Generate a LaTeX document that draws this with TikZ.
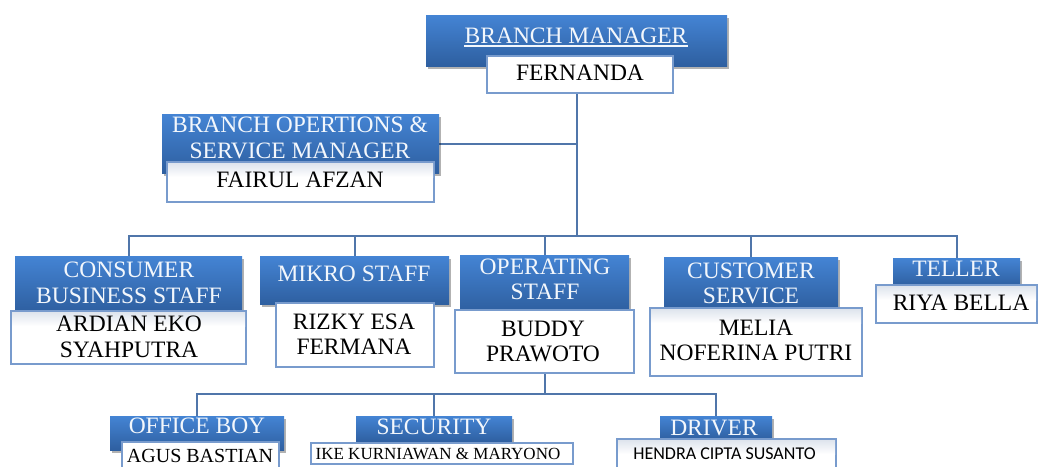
\documentclass[tikz,border=0pt]{standalone}
\usepackage{fontspec}
\setmainfont{Liberation Serif}
\newfontfamily\calib{Carlito}
\usetikzlibrary{shadows}
\definecolor{bluetop}{RGB}{68,132,212}
\definecolor{bluebot}{RGB}{46,95,160}
\definecolor{boxline}{RGB}{120,155,205}
\definecolor{connc}{RGB}{80,118,170}
\definecolor{tintc}{RGB}{222,228,237}
\definecolor{headtxt}{RGB}{243,247,252}
\pgfdeclarelayer{paper}
\pgfdeclarelayer{bg}
\pgfsetlayers{paper,bg,main}
\tikzset{
 hdr/.style={rectangle, inner sep=0pt, outer sep=0pt, top color=bluetop, bottom color=bluebot, draw=none,
   drop shadow={shadow xshift=2pt, shadow yshift=-3pt, opacity=0.3, fill=black}},
 namebox/.style={rectangle, inner sep=0pt, outer sep=0pt, fill=white, draw=boxline, line width=1.3pt},
 conn/.style={draw=connc, line width=2pt},
 htext/.style={inner sep=0pt, text=headtxt, font=\fontsize{23.5}{25.5}\selectfont, align=center},
 ntext/.style={inner sep=0pt, text=black, font=\fontsize{23.5}{25.5}\selectfont, align=center},
 tintfill/.style={top color=tintc, bottom color=white, draw=none},
}
\newcommand{\orgbox}[6]{\node[#6, minimum width={(#4-#2)*1pt}, minimum height={(#5-#3)*1pt}] (#1) at ({(#2+#4)/2},{(#3+#5)/2}) {};}
\newcommand{\tintbox}[1]{\fill[tintfill] ([xshift=1pt,yshift=-1pt]#1.north west) rectangle ([xshift=-1pt,yshift=-15pt]#1.north east);}
\begin{document}
\begin{tikzpicture}[x=1pt,y=-1pt]
\begin{pgfonlayer}{paper}
\fill[white] (0,0) rectangle (1040,466);
\end{pgfonlayer}
\useasboundingbox (0,0) rectangle (1040,466);
% header boxes and name boxes
\orgbox{bm}{426}{15}{727}{66}{hdr}
\orgbox{fer}{487}{56}{673}{93}{namebox}
\orgbox{bos}{162}{114}{439}{173}{hdr}
\orgbox{fai}{167}{162}{434}{202}{namebox}\tintbox{fai}
\orgbox{cons}{15}{256}{242}{312}{hdr}
\orgbox{ard}{11}{311}{246}{364}{namebox}\tintbox{ard}
\orgbox{mik}{260}{256}{449}{304}{hdr}
\orgbox{riz}{276}{303}{434}{367}{namebox}
\orgbox{ops}{460}{255}{629}{311}{hdr}
\orgbox{bud}{455}{310}{634}{373}{namebox}
\orgbox{cus}{664}{257}{838}{309}{hdr}
\orgbox{mel}{650}{308}{862}{376}{namebox}\tintbox{mel}
\orgbox{tel}{893}{258}{1020}{286}{hdr}
\orgbox{riy}{876}{285}{1037}{323}{namebox}\tintbox{riy}
\orgbox{ob}{110}{416}{284}{450}{hdr}
\orgbox{agu}{122}{442}{279}{472}{namebox}
\orgbox{sec}{356}{416}{512}{442}{hdr}
\orgbox{ike}{311}{443}{573}{464}{namebox}
\orgbox{drv}{660}{416}{772}{440}{hdr}
\orgbox{hen}{617}{439}{836}{472}{namebox}\tintbox{hen}
% connectors
\coordinate (jtop) at (577,236);
\coordinate (jbot) at (546,394);
\begin{pgfonlayer}{bg}
\draw[conn] (jtop |- fer.south) -- (jtop);
\draw[conn] (bos.east) -- (bos.east -| jtop);
\draw[conn] (cons.north) -- (cons.north |- jtop) -- (tel.north |- jtop) -- (tel.north);
\draw[conn] (mik.north) -- (mik.north |- jtop);
\draw[conn] (ops.north) -- (ops.north |- jtop);
\draw[conn] (cus.north) -- (cus.north |- jtop);
\draw[conn] (bud.south) -- (bud.south |- jbot);
\draw[conn] (ob.north) -- (ob.north |- jbot) -- (drv.north |- jbot) -- (drv.north);
\draw[conn] (sec.north) -- (sec.north |- jbot);
\end{pgfonlayer}
% texts
\node[htext, anchor=base] (bmt) at (576,43) {BRANCH MANAGER};
\draw[headtxt, line width=1.3pt] ([yshift=-3pt]bmt.base west) -- ([yshift=-3pt]bmt.base east);
\node[ntext] (fert) at (580,72.5) {FERNANDA};
\node[htext] (bost) at (300,138) {BRANCH OPERTIONS \&\\SERVICE MANAGER};
\node[ntext] (fait) at (300,180) {FAIRUL AFZAN};
\node[htext] (const) at (129,282.75) {CONSUMER\\BUSINESS STAFF};
\node[ntext] (ardt) at (129,336.75) {ARDIAN EKO\\SYAHPUTRA};
\node[htext] (mikt) at (354,273.5) {MIKRO STAFF};
\node[ntext] (rizt) at (354,334) {RIZKY ESA\\FERMANA};
\node[htext] (opst) at (545,279.25) {OPERATING\\STAFF};
\node[ntext] (budt) at (543,341.25) {BUDDY\\PRAWOTO};
\node[htext] (cust) at (751,283.25) {CUSTOMER\\SERVICE};
\node[ntext] (melt) at (756,340.25) {MELIA\\NOFERINA PUTRI};
\node[htext] (telt) at (956,268.5) {TELLER};
\node[ntext] (riyt) at (961,302.5) {RIYA BELLA};
\node[htext] (obt) at (197,426) {OFFICE BOY};
\node[ntext, font=\fontsize{20}{22}\selectfont] (agut) at (200,456) {AGUS BASTIAN};
\node[htext] (sect) at (434,427) {SECURITY};
\node[ntext, font=\fontsize{17}{19}\selectfont] (iket) at (438,453.5) {IKE KURNIAWAN \& MARYONO};
\node[htext] (drvt) at (714,427.5) {DRIVER};
\node[ntext, font=\calib\fontsize{18}{20}\selectfont] (hent) at (724.5,453.5) {HENDRA CIPTA SUSANTO};
\end{tikzpicture}
\end{document}
